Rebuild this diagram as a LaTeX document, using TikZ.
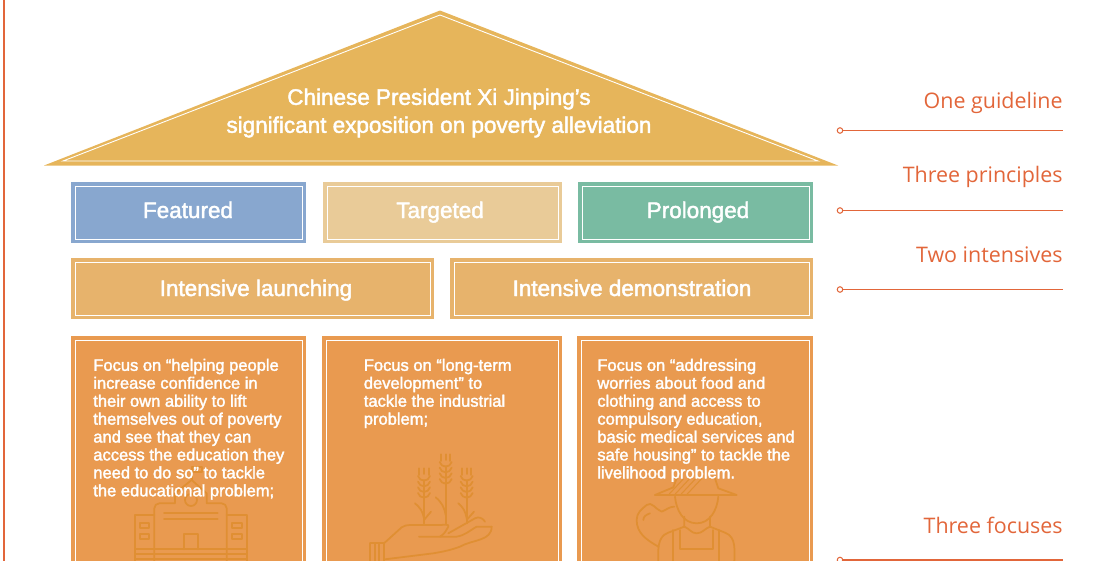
\documentclass[tikz,border=0pt]{standalone}
\usepackage{fontspec}
\setmainfont{Liberation Sans}
\newfontfamily\boxfont{Liberation Sans}[FakeBold=2]
\newfontfamily\sidefont{Open Sans}
\definecolor{rustline}{HTML}{E2663A}
\definecolor{roofgold}{HTML}{E6B55B}
\definecolor{featblue}{HTML}{88A7CF}
\definecolor{targsand}{HTML}{E9CB98}
\definecolor{prolgreen}{HTML}{79BBA2}
\definecolor{intsand}{HTML}{E7B36C}
\definecolor{focusorange}{HTML}{E99A50}
\definecolor{iconorange}{HTML}{E08F33}
\usetikzlibrary{calc}
\tikzset{
  framedbox/.style={rectangle,inner sep=0pt,outer sep=0pt,minimum height=#1,
    path picture={\draw[white,line width=0.5pt]
      ($(path picture bounding box.south west)+(0.08cm,0.08cm)$) rectangle
      ($(path picture bounding box.north east)+(-0.08cm,-0.08cm)$);}},
  boxtext/.style={text=white,font=\boxfont\fontsize{12.8}{14}\selectfont,inner sep=0pt,anchor=base},
  focustext/.style={text=white,font=\boxfont\fontsize{9.4}{10.2}\selectfont,
    inner sep=0pt,align=left,anchor=north west},
  sidetext/.style={text=rustline,font=\sidefont\fontsize{12.2}{14}\selectfont,
    inner sep=0pt,anchor=base east},
  ringnode/.style={circle,draw=rustline,fill=white,line width=0.6pt,inner sep=0pt,minimum size=0.11cm},
  ruleline/.style={rustline,line width=0.85pt},
  iconline/.style={iconorange,line width=1pt,line join=round,line cap=round},
}
\begin{document}
\begin{tikzpicture}[x=0.02cm,y=-0.02cm]
\useasboundingbox (0,0) rectangle (1106,561);
\clip (0,0) rectangle (1106,561);

% left rule
\draw[rustline,line width=1.1pt] (4,0) -- (4,561);

% roof
\fill[roofgold] (44,165.5) -- (440,10.5) -- (838,165.5) -- cycle;
\draw[white,line width=0.5pt] (63,161) -- (440,15) -- (818,161) -- cycle;
\node[text=white,font=\boxfont\fontsize{12.8}{15.9}\selectfont,inner sep=0pt,align=center] (roofText) at (439,113)
  {Chinese President Xi Jinping’s\\significant exposition on poverty alleviation};

% three principles
\node[framedbox=1.22cm,minimum width=4.7cm,fill=featblue] (featured) at (188.5,212.5) {};
\node[framedbox=1.22cm,minimum width=4.78cm,fill=targsand] (targeted) at (442.5,212.5) {};
\node[framedbox=1.22cm,minimum width=4.7cm,fill=prolgreen] (prolonged) at (695.5,212.5) {};
\node[boxtext] (featuredText) at (188,218) {Featured};
\node[boxtext] (targetedText) at (440,218) {Targeted};
\node[boxtext] (prolongedText) at (698,218) {Prolonged};

% two intensives
\node[framedbox=1.22cm,minimum width=7.26cm,fill=intsand] (launching) at (252.5,288.5) {};
\node[framedbox=1.22cm,minimum width=7.26cm,fill=intsand] (demonstration) at (631.5,288.5) {};
\node[boxtext] (launchingText) at (256,296) {Intensive launching};
\node[boxtext] (demonstrationText) at (632,296) {Intensive demonstration};

% three focuses
\node[framedbox=4.58cm,minimum width=4.7cm,fill=focusorange] (focusA) at (188.5,450.5) {};
\node[framedbox=4.58cm,minimum width=4.8cm,fill=focusorange] (focusB) at (442,450.5) {};
\node[framedbox=4.58cm,minimum width=4.72cm,fill=focusorange] (focusC) at (695,450.5) {};

% school icon
\begin{scope}[shift={(60,330)},scale=0.3333]
\draw[iconline] (283,700) -- (283,535) to[out=90,in=180] (298,520) -- (345,520) -- (345,490) -- (395,450) -- (440,490) -- (440,520) -- (485,520) to[out=0,in=90] (500,535) -- (500,700);
\draw[iconline] (283,555) -- (225,555) -- (225,700) (500,555) -- (560,555) -- (560,700);
\draw[iconline] (393,510) circle (18);
\draw[iconline] (395,450) -- (395,412) -- (425,412) -- (425,425) -- (395,425);
\draw[iconline] (312,550) -- (473,550) (312,567) -- (473,567);
\draw[iconline] (240,580) rectangle (268,595) (240,612) rectangle (268,627);
\draw[iconline] (517,580) rectangle (545,595) (517,612) rectangle (545,627);
\draw[iconline] (372,658) -- (372,612) -- (413,612) -- (413,658);
\draw[iconline] (225,658) -- (560,658) (225,672) -- (560,672) (225,688) -- (560,688);
\end{scope}

% wheat icon
\begin{scope}[shift={(320,330)},scale=0.3333]
\foreach \sx/\sy in {312/410,377/368,440/410} {
  \draw[iconline] (\sx,\sy+5) -- (\sx,\sy+22) (\sx,\sy+40) -- (\sx,580);
  \draw[iconline] (\sx-14,\sy+5) -- (\sx-14,\sy+25) (\sx+14,\sy+5) -- (\sx+14,\sy+25);
  \foreach \k in {0,1,2,3} {
    \draw[iconline] (\sx-18,\sy+28+\k*17) to[out=-70,in=180] (\sx,\sy+42+\k*17) to[out=0,in=-110] (\sx+18,\sy+28+\k*17);
  }
}
\draw[iconline] (285,520) to[out=-40,in=100] (312,565) (333,545) -- (312,570);
\draw[iconline] (347,502) to[out=-40,in=100] (377,555);
\draw[iconline] (415,520) to[out=-40,in=100] (440,565) (462,545) -- (440,570);
\draw[iconline] (192,640) -- (245,592) to[out=30,in=180] (270,585) -- (360,585) to[out=0,in=60] (385,590) to[out=-120,in=30] (360,620);
\draw[iconline] (297,620) -- (410,620) to[out=10,in=-150] (470,590) -- (515,590);
\draw[iconline] (385,610) -- (465,565) to[out=30,in=120] (495,575);
\draw[iconline] (515,590) to[out=-90,in=30] (420,650) to[out=-160,in=10] (340,670) -- (195,688);
\draw[iconline] (150,640) -- (192,640) (150,640) -- (150,700) (192,640) -- (192,700);
\draw[iconline] (164,640) -- (164,700) (178,640) -- (178,700);
\end{scope}

% farmer icon
\begin{scope}[shift={(575,330)},scale=0.3333]
\draw[iconline] (240,495) -- (485,495) -- (430,475) -- (420,445);
\draw[iconline] (240,495) -- (295,472) -- (305,445);
\foreach \hx in {0,1,2,3} {\draw[iconline,line width=0.6pt] (280+\hx*18,495) -- (325+\hx*18,447);}
\draw[iconline] (300,500) to[out=-85,in=180] (365,580) to[out=0,in=-95] (430,500);
\draw[iconline] (328,560) -- (328,590) to[out=-20,in=180] (365,610) to[out=0,in=200] (405,590) -- (405,560);
\draw[iconline] (328,590) -- (280,608) to[out=200,in=90] (250,700);
\draw[iconline] (405,590) -- (450,608) to[out=-20,in=90] (478,700);
\draw[iconline] (295,600) -- (295,700) (432,600) -- (432,700);
\draw[iconline] (315,600) -- (315,657) -- (415,657) -- (415,600);
\draw[iconline] (298,530) to[out=180,in=20] (260,545) to[out=160,in=40] (215,525) to[out=220,in=90] (185,570) to[out=-90,in=150] (250,650);
\draw[iconline] (205,570) to[out=90,in=200] (225,550);
\end{scope}

\node[focustext] (focusTextA) at (93,358.5) {Focus on “helping people\\increase confidence in\\their own ability to lift\\themselves out of poverty\\and see that they can\\access the education they\\need to do so” to tackle\\the educational problem;};
\node[focustext] (focusTextB) at (363.5,358.5) {Focus on “long-term\\development” to\\tackle the industrial\\problem;};
\node[focustext] (focusTextC) at (597,358.5) {Focus on “addressing\\worries about food and\\clothing and access to\\compulsory education,\\basic medical services and\\safe housing” to tackle the\\livelihood problem.};

% side labels and their rules
\foreach \rname/\ry/\ty/\rtext in {guide/130.5/108/One guideline,principles/210.5/182/Three principles,intensives/289.5/262/Two intensives,focuses/560/533/Three focuses} {
  \node[ringnode] (ring\rname) at (840,\ry) {};
  \coordinate (end\rname) at (1063,\ry);
  \draw[ruleline] (ring\rname) -- (end\rname);
  \node[sidetext] (label\rname) at (1063,\ty) {\rtext};
}
\end{tikzpicture}
\end{document}
